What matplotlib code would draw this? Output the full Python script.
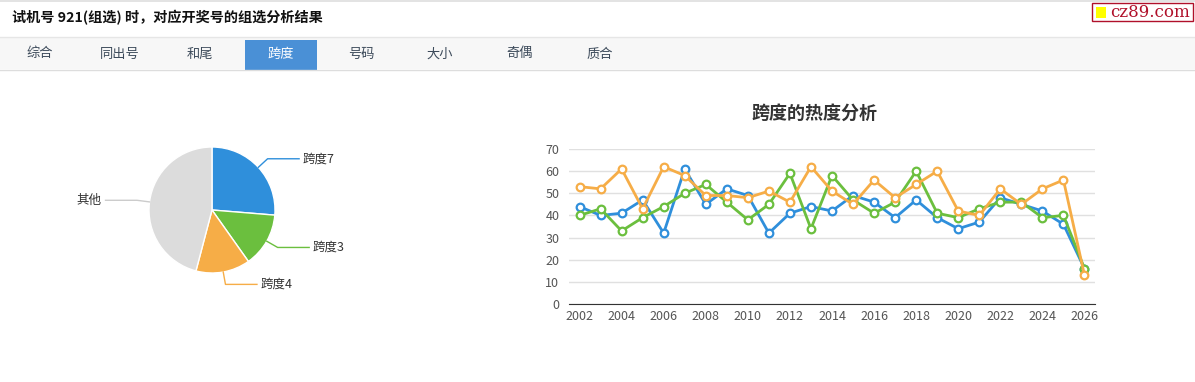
import numpy as np
import matplotlib
matplotlib.use('Agg')
import matplotlib.pyplot as plt
from matplotlib.patches import Rectangle

plt.rcParams['font.family'] = ['Noto Sans CJK SC', 'DejaVu Sans']

W, H = 1195, 382

# 数据
tabs = ['综合', '同出号', '和尾', '跨度', '号码', '大小', '奇偶', '质合']
tab_x = [40, 120, 200, 281, 361, 440, 520, 600]
active_tab = '跨度'

pie_labels = ['跨度7', '跨度3', '跨度4', '其他']
pie_values = [26.3, 13.9, 13.9, 45.9]
pie_colors = ['#2f8fdb', '#6bbf3e', '#f6ad47', '#dcdcdc']

years = list(range(2002, 2027))
blue = [44, 40, 41, 47, 32, 61, 45, 52, 49, 32, 41, 44, 42, 49, 46, 39, 47, 39, 34, 37, 48, 45, 42, 36, 16]
green = [40, 43, 33, 39, 44, 50, 54, 46, 38, 45, 59, 34, 58, 47, 41, 46, 60, 41, 39, 43, 46, 46, 39, 40, 16]
orange = [53, 52, 61, 43, 62, 58, 49, 49, 48, 51, 46, 62, 51, 45, 56, 48, 54, 60, 42, 40, 52, 45, 52, 56, 13]


def px(x0, y0, w, h):
    # 像素坐标 -> figure 坐标
    return [x0 / W, 1 - (y0 + h) / H, w / W, h / H]


fig = plt.figure(figsize=(W / 100, H / 100), dpi=100)
fig.patch.set_facecolor('white')

# 背景（页头、标签栏）
bg = fig.add_axes([0, 0, 1, 1])
bg.set_xlim(0, W)
bg.set_ylim(H, 0)
bg.axis('off')
bg.add_patch(Rectangle((0, 0), W, 1.5, color='#e3e3e3', lw=0))
bg.add_patch(Rectangle((0, 37), W, 32, color='#f7f7f7', lw=0))
bg.plot([0, W], [37, 37], color='#e6e6e6', lw=1)
bg.plot([0, W], [69.5, 69.5], color='#dddddd', lw=1)
bg.text(12, 18, '试机号 921(组选) 时，对应开奖号的组选分析结果', fontsize=10.2, fontweight='bold',
        color='#111111', va='center', ha='left')
for name, x in zip(tabs, tab_x):
    if name == active_tab:
        bg.add_patch(Rectangle((245, 40), 72, 29.5, color='#4a90d6', lw=0))
        bg.text(x, 54, name, fontsize=9.5, color='white', ha='center', va='center')
    else:
        bg.text(x, 54, name, fontsize=9.5, color='#3c4a5a', ha='center', va='center')

# 水印
bg.add_patch(Rectangle((1092, 3), 101, 18, fill=False, ec='#b0102a', lw=1))
bg.add_patch(Rectangle((1096, 7), 10, 11, color='#ffff00', lw=0))
bg.text(1110, 12.5, 'cz89.com', fontsize=12, family='DejaVu Serif', color='#b0102a',
        va='center', ha='left')

# 饼图
r_px = 63
ax_pie = fig.add_axes(px(212 - 2 * r_px, 210 - 2 * r_px, 4 * r_px, 4 * r_px))
wedges, _ = ax_pie.pie(pie_values, colors=pie_colors, startangle=90, counterclock=False,
                       radius=1, wedgeprops=dict(edgecolor='white', linewidth=1))
ax_pie.set_xlim(-2, 2)
ax_pie.set_ylim(-2, 2)
ax_pie.set_aspect('equal')
ax_pie.axis('off')
for w, label, c in zip(wedges, pie_labels, pie_colors):
    mid = np.deg2rad((w.theta1 + w.theta2) / 2)
    ex, ey = np.cos(mid), np.sin(mid)
    bx, by = 1.2 * ex, 1.2 * ey
    side = 1 if ex >= 0 else -1
    tx = bx + side * 0.5
    lc = '#cccccc' if label == '其他' else c
    ax_pie.plot([ex, bx, tx], [ey, by, by], color=lc, lw=1, clip_on=False)
    ax_pie.text(tx + side * 0.06, by, label, fontsize=9, color='#333333',
                ha='left' if side > 0 else 'right', va='center')

# 折线图
ax = fig.add_axes(px(569, 149, 526, 155))
for vals, c in [(blue, '#2f8fdb'), (green, '#6bbf3e'), (orange, '#f6ad47')]:
    ax.plot(years, vals, color=c, lw=2, marker='o', markersize=5.5,
            markerfacecolor='white', markeredgecolor=c, markeredgewidth=1.6, zorder=3)
ax.set_xlim(2001.5, 2026.5)
ax.set_ylim(0, 70)
ax.set_yticks(range(0, 71, 10))
ax.set_xticks(years[::2])
ax.grid(axis='y', color='#e0e0e0', lw=1)
ax.set_axisbelow(True)
for s in ['top', 'right', 'left']:
    ax.spines[s].set_visible(False)
ax.spines['bottom'].set_color('#333333')
ax.tick_params(axis='both', length=0, labelsize=9, labelcolor='#555555')
ax.tick_params(axis='y', pad=7)
ax.tick_params(axis='x', pad=4)
ax.patch.set_alpha(0)
fig.text(814 / W, 1 - 113 / H, '跨度的热度分析', fontsize=13, fontweight='bold',
         color='#333333', ha='center', va='center')

fig.savefig('out.png', dpi=100)
